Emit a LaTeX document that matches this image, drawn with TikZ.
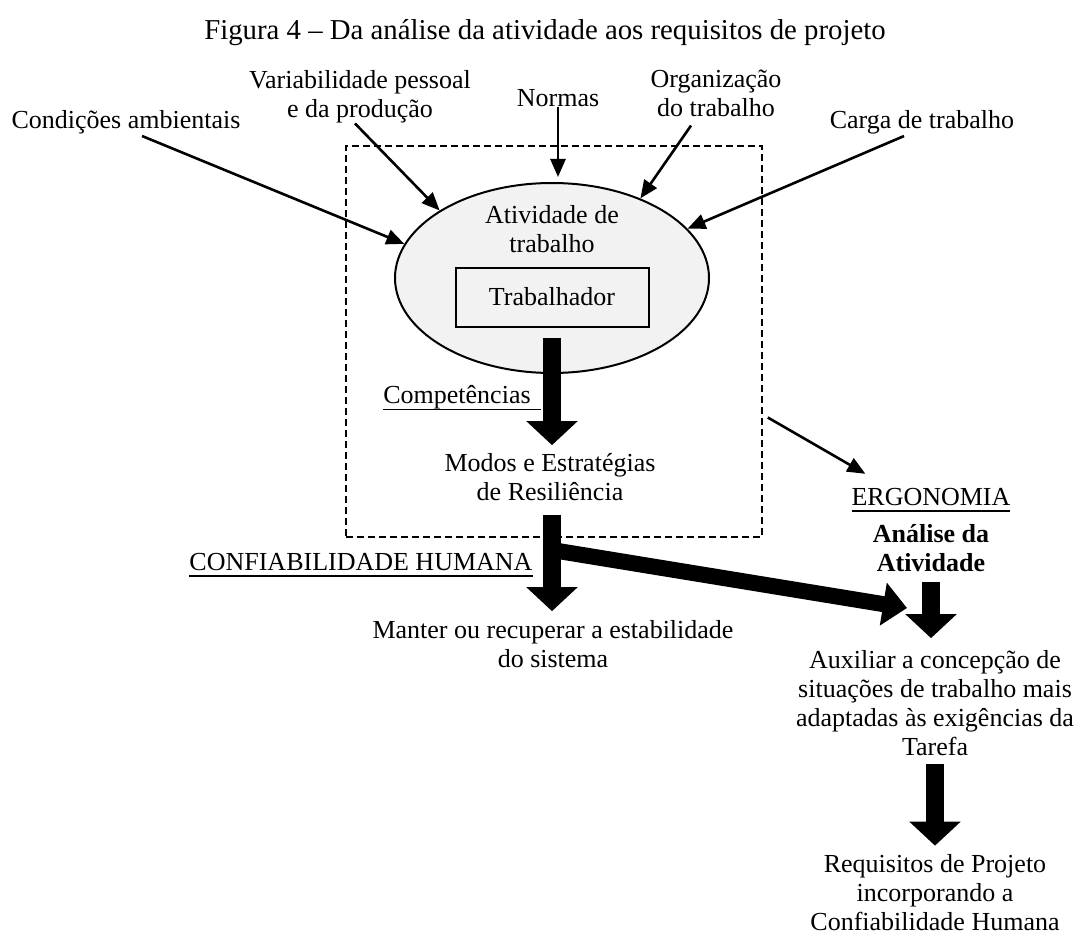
\documentclass[tikz,border=0pt]{standalone}
\usepackage{fontspec}
\setmainfont{Liberation Serif}
\usetikzlibrary{arrows.meta,shapes.geometric}
\newcommand{\sublinha}[1]{\setbox0\hbox{#1}\rlap{\rule[-6.8pt]{\wd0}{1.8pt}}\box0}

\begin{document}
\begin{tikzpicture}[x=1pt,y=-1pt,
        txt/.style={font=\fontsize{26}{29}\selectfont, align=center, inner sep=0pt},
        inarrow/.style={line width=2.6pt, -{Triangle[length=18pt,width=15pt]}},
        bigarrow/.style={line width=18pt, -{Triangle[length=24pt,width=50pt]}}]
        \useasboundingbox (0,0) rectangle (1079,936);
        \node[txt, font=\fontsize{28.8}{32}\selectfont] (title) at (545,33) {Figura 4 – Da análise da atividade aos requisitos de projeto};
        % fatores que atuam sobre a atividade
        \node[txt] (cond) at (126,122) {Condições ambientais};
        \node[txt] (var) at (360,97) {Variabilidade pessoal\\e da produção};
        \node[txt] (normas) at (558,98) {Normas};
        \node[txt] (org) at (716,93) {Organização\\do trabalho};
        \node[txt] (carga) at (922,122) {Carga de trabalho};
        \node[draw, dash pattern=on 7pt off 4pt, line width=1.6pt, minimum width=416pt, minimum height=391pt] (quadro) at (554,341.5) {};
        \node[ellipse, draw, line width=2pt, fill=black!5, minimum width=314pt, minimum height=190pt, inner sep=0pt] (ativ) at (552,278) {};
        \node[txt] (ativtxt) at (552,229) {Atividade de\\trabalho};
        \node[txt, draw, line width=2pt, minimum width=193pt, minimum height=59pt] (trab) at (552,297) {Trabalhador};
        \draw[inarrow] ([xshift=16pt,yshift=-2pt]cond.south) -- (ativ.167);
        \draw[inarrow] ([xshift=-5pt]var.south) -- (ativ.149);
        \draw[inarrow] (normas.south) -- ([yshift=5pt]normas.south |- ativ.north);
        \draw[inarrow] ([xshift=-25pt,yshift=-9pt]org.south) -- (ativ.42);
        \draw[inarrow] ([xshift=-18pt,yshift=-2pt]carga.south) -- (ativ.20);
        % resiliencia
        \node[txt] (comp) at (462,398) {\sublinha{Competências\hspace{10pt}}};
        \node[txt] (modos) at (550,477) {Modos e Estratégias\\de Resiliência};
        \node[txt] (confiab) at (361,565) {\sublinha{CONFIABILIDADE HUMANA}};
        \node[txt] (manter) at (553,644) {Manter ou recuperar a estabilidade\\do sistema};
        \draw[bigarrow] ([yshift=-10pt]trab.south) -- ([yshift=8pt]trab.south |- modos.north);
        \draw[bigarrow] ([yshift=-14pt]trab.south |- modos.south) -- ([yshift=9pt]trab.south |- manter.north);
        % ergonomia
        \node[txt] (ergo) at (931,500) {\sublinha{ERGONOMIA}};
        \node[txt, font=\fontsize{26}{29}\selectfont\bfseries] (analise) at (931,548) {Análise da\\Atividade};
        \node[txt] (auxiliar) at (935,703) {Auxiliar a concepção de\\situações de trabalho mais\\adaptadas às exigências da\\Tarefa};
        \node[txt] (requisitos) at (935,893) {Requisitos de Projeto\\incorporando a\\Confiabilidade Humana};
        \draw[inarrow] ([shift={(5pt,0pt)}]quadro.-20) -- ([xshift=14pt,yshift=14pt]ergo.north west);
        \coordinate (desvio) at (552,550);
        \coordinate (juncao) at (907,608);
        \draw[bigarrow, line width=16pt, -{Triangle[length=24pt,width=42pt]}] (desvio) -- (juncao);
        \draw[bigarrow] ([yshift=-10pt]analise.south) -- ([yshift=12pt]analise.south |- auxiliar.north);
        \draw[bigarrow] ([yshift=-8pt]auxiliar.south) -- ([yshift=9pt]auxiliar.south |- requisitos.north);
\end{tikzpicture}
\end{document}
